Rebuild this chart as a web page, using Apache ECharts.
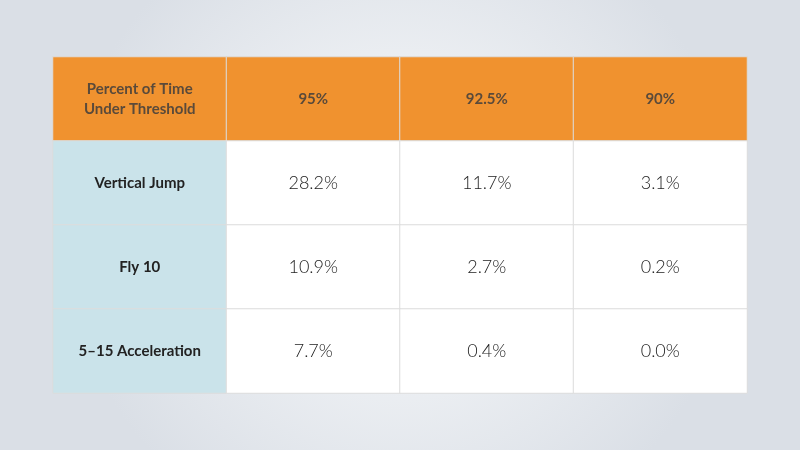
<!DOCTYPE html>
<html><head><meta charset="utf-8">
<script src="https://cdn.jsdelivr.net/npm/echarts@6/dist/echarts.min.js"></script>
<style>html,body{margin:0;padding:0}#c{width:800px;height:450px}</style>
</head><body><div id="c"></div>
<script>
var columns = ['Percent of Time\nUnder Threshold', '95%', '92.5%', '90%'];
var rowNames = ['Vertical Jump', 'Fly 10', '5\u201315 Acceleration'];
var values = [
	[28.2, 11.7, 3.1],
	[10.9, 2.7, 0.2],
	[7.7, 0.4, 0.0]
];
var rowKeys = ['h', 'r0', 'r1', 'r2'];

var data = [];
// header row
columns.forEach(function(c, i) {
	data.push({
		name: c,
		value: [i, 0, 1],
		itemStyle: {color: '#f0922f'},
		label: {color: '#5a4a3a', fontWeight: 'bold', fontSize: 15, lineHeight: 20}
	});
});
rowNames.forEach(function(name, r) {
	data.push({
		name: name,
		value: [0, r + 1, 1],
		itemStyle: {color: '#cae3ea'},
		label: {color: '#222', fontWeight: 'bold', fontSize: 15}
	});
	values[r].forEach(function(v, c) {
		data.push({
			name: v.toFixed(1) + '%',
			value: [c + 1, r + 1, v],
			itemStyle: {color: '#ffffff'},
			label: {color: '#222', fontSize: 18, fontWeight: 300}
		});
	});
});

var chart = echarts.init(document.getElementById('c'));
chart.setOption({
	backgroundColor: {
		type: 'radial', x: 0.5, y: 0.5, r: 0.75,
		colorStops: [{offset: 0, color: '#fbfcfd'}, {offset: 1, color: '#dadfe6'}]
	},
	grid: {left: 53, right: 53, top: 57, bottom: 57},
	xAxis: {type: 'category', data: ['c0', 'c1', 'c2', 'c3'], show: false},
	yAxis: {type: 'category', data: rowKeys, inverse: true, show: false},
	series: [{
		type: 'heatmap',
		data: data,
		itemStyle: {borderColor: '#dcdcdc', borderWidth: 1},
		label: {
			show: true,
			fontFamily: 'Lato',
			formatter: function(p) { return p.name; }
		},
		emphasis: {disabled: true}
	}]
});
</script>
</body></html>
